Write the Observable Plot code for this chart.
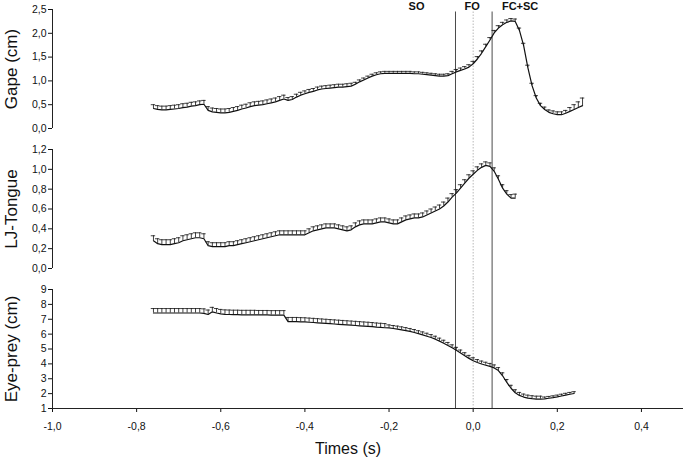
<!DOCTYPE html>
<html><head><meta charset="utf-8">
<script src="https://cdn.jsdelivr.net/npm/d3@7"></script>
<script src="https://cdn.jsdelivr.net/npm/@observablehq/plot@0.6"></script>
<style>
body{margin:0;background:#fff;}
#chart{position:relative;width:685px;height:458px;font-family:Arial,"Liberation Sans",sans-serif;}
#chart > svg{position:absolute;left:0;}
</style></head><body><div id="chart"></div>
<script>
// sample times (s)
const times = [-0.76,-0.75,-0.74,-0.73,-0.72,-0.71,-0.70,-0.69,-0.68,-0.67,-0.66,-0.65,-0.64,-0.63,-0.62,-0.61,-0.60,-0.59,-0.58,-0.57,-0.56,-0.55,-0.54,-0.53,-0.52,-0.51,-0.50,-0.49,-0.48,-0.47,-0.46,-0.45,-0.44,-0.43,-0.42,-0.41,-0.40,-0.39,-0.38,-0.37,-0.36,-0.35,-0.34,-0.33,-0.32,-0.31,-0.30,-0.29,-0.28,-0.27,-0.26,-0.25,-0.24,-0.23,-0.22,-0.21,-0.20,-0.19,-0.18,-0.17,-0.16,-0.15,-0.14,-0.13,-0.12,-0.11,-0.10,-0.09,-0.08,-0.07,-0.06,-0.05,-0.04,-0.03,-0.02,-0.01,0.00,0.01,0.02,0.03,0.04,0.05,0.06,0.07,0.08,0.09,0.10,0.11,0.12,0.13,0.14,0.15,0.16,0.17,0.18,0.19,0.20,0.21,0.22,0.23,0.24,0.25,0.26];

// Gape (cm)
const gape = [0.42,0.40,0.39,0.39,0.40,0.41,0.42,0.44,0.45,0.47,0.48,0.50,0.51,
  0.38,0.35,0.34,0.33,0.33,0.34,0.36,0.38,0.41,0.43,0.46,0.48,0.49,0.50,0.52,0.54,0.56,0.59,0.62,
  0.59,0.61,0.66,0.70,0.73,0.76,0.78,0.81,0.83,0.84,0.85,0.86,0.87,0.87,0.88,0.89,
  0.93,0.98,1.02,1.06,1.10,1.13,1.15,1.16,1.16,1.16,1.16,1.16,1.16,1.16,1.15,1.15,1.14,1.13,1.12,1.11,1.10,1.10,1.11,
  1.15,1.19,1.22,1.25,1.29,1.36,1.46,1.58,1.72,1.86,2.01,2.11,2.18,2.23,2.26,2.25,2.06,1.74,1.28,0.90,0.64,0.48,0.40,0.34,0.31,0.29,0.29,0.32,0.36,0.40,0.44,0.48];
const gapeErr = [0.08,0.08,0.08,0.08,0.08,0.08,0.08,0.08,0.08,0.08,0.08,0.08,0.08,
  0.08,0.08,0.08,0.08,0.08,0.08,0.08,0.08,0.08,0.08,0.08,0.08,0.08,0.08,0.08,0.08,0.08,0.08,0.08,
  0.06,0.06,0.06,0.06,0.06,0.06,0.06,0.06,0.06,0.06,0.06,0.06,0.06,0.06,0.06,0.06,
  0.04,0.04,0.04,0.04,0.04,0.04,0.04,0.04,0.04,0.04,0.04,0.04,0.04,0.04,0.04,0.04,0.04,0.04,0.04,0.04,0.04,0.04,0.04,
  0.05,0.05,0.05,0.05,0.05,0.05,0.05,0.05,0.05,0.05,0.05,0.05,0.05,0.05,0.05,0.05,0.05,0.05,0.05,0.05,0.05,0.05,0.05,0.05,0.06,0.06,0.06,0.06,0.08,0.10,0.12,0.16];

// LJ-Tongue
const ljTongue = [0.28,0.25,0.24,0.24,0.24,0.25,0.26,0.28,0.29,0.30,0.31,0.31,0.30,
  0.23,0.22,0.22,0.22,0.22,0.23,0.23,0.24,0.25,0.26,0.27,0.28,0.29,0.30,0.31,0.32,0.33,0.34,0.34,
  0.34,0.34,0.34,0.34,0.34,0.36,0.38,0.39,0.40,0.41,0.41,0.41,0.40,0.39,0.38,0.39,
  0.42,0.44,0.45,0.45,0.45,0.46,0.47,0.47,0.46,0.45,0.45,0.47,0.49,0.50,0.51,0.51,0.52,0.54,0.56,0.58,0.60,0.63,0.67,
  0.72,0.76,0.81,0.86,0.91,0.95,0.99,1.02,1.04,1.03,0.98,0.90,0.81,0.75,0.71,0.71];
const ljTongueErr = [0.05,0.05,0.05,0.05,0.05,0.05,0.05,0.05,0.05,0.05,0.05,0.05,0.05,
  0.04,0.04,0.04,0.04,0.04,0.04,0.04,0.04,0.04,0.04,0.04,0.04,0.04,0.04,0.04,0.04,0.04,0.04,0.04,
  0.04,0.04,0.04,0.04,0.04,0.04,0.04,0.04,0.04,0.04,0.04,0.04,0.04,0.04,0.04,0.04,
  0.04,0.04,0.04,0.04,0.04,0.04,0.04,0.04,0.04,0.04,0.04,0.04,0.04,0.04,0.04,0.04,0.04,0.04,0.04,0.04,0.04,0.04,0.04,
  0.035,0.035,0.035,0.035,0.035,0.035,0.035,0.035,0.035,0.035,0.035,0.035,0.035,0.035,0.035,0.04];

// Eye-prey (cm)
const eyePrey = [7.42,7.42,7.42,7.42,7.42,7.42,7.42,7.42,7.42,7.42,7.42,7.42,7.40,
  7.32,7.50,7.42,7.36,7.33,7.32,7.31,7.31,7.30,7.30,7.30,7.30,7.29,7.29,7.29,7.28,7.28,7.28,7.28,
  6.84,6.84,6.84,6.83,6.82,6.80,6.78,6.76,6.74,6.72,6.70,6.68,6.66,6.64,6.62,6.60,6.58,6.56,6.54,6.52,6.50,6.47,6.45,6.43,
  6.42,6.38,6.34,6.29,6.24,6.18,6.11,6.03,5.95,5.86,5.77,5.66,5.53,5.39,5.24,
  5.08,4.91,4.73,4.55,4.37,4.21,4.09,3.99,3.91,3.83,3.73,3.55,3.20,2.75,2.36,2.06,1.88,1.77,1.70,1.66,1.63,1.63,
  1.65,1.69,1.73,1.78,1.84,1.90,1.96,2.01];
const eyePreyErr = [0.30,0.30,0.30,0.30,0.30,0.30,0.30,0.30,0.30,0.30,0.30,0.30,0.30,
  0.30,0.30,0.30,0.30,0.30,0.30,0.30,0.30,0.30,0.30,0.30,0.30,0.30,0.30,0.30,0.30,0.30,0.30,0.30,
  0.28,0.28,0.28,0.28,0.28,0.28,0.28,0.28,0.28,0.28,0.28,0.28,0.28,0.28,0.28,0.28,0.28,0.28,0.28,0.28,0.28,0.28,0.28,0.28,
  0.20,0.20,0.20,0.20,0.20,0.20,0.20,0.20,0.20,0.20,0.20,0.20,0.20,0.20,0.20,
  0.20,0.20,0.20,0.20,0.20,0.20,0.20,0.20,0.20,0.20,0.20,0.20,0.20,0.20,0.20,0.20,0.20,0.20,0.20,0.20,0.20,0.20,
  0.12,0.12,0.12,0.12,0.12,0.12,0.12,0.12];

// kinematic events
const eventLabels = ["SO", "FO", "FC+SC"];
const eventTimes = [-0.042, 0.0, 0.045];

// axes
const xDomain = [-1, 0.5];
const xTicks = [-1.0, -0.8, -0.6, -0.4, -0.2, 0.0, 0.2, 0.4];
const gapeTicks = [0, 0.5, 1.0, 1.5, 2.0, 2.5];
const ljTicks = [0, 0.2, 0.4, 0.6, 0.8, 1.0, 1.2];
const eyeTicks = [1, 2, 3, 4, 5, 6, 7, 8, 9];

const fmt1 = d => d.toFixed(1).replace(".", ",");
const fmt0 = d => String(d);

function rows(vals, errs) {
  return vals.map((v, i) => ({t: times[i], v, hi: v + errs[i]}));
}

const eventStyles = [
  {stroke: "#4a4a4a", strokeWidth: 1, labelDx: -39},
  {stroke: "#b8b8b8", strokeWidth: 1, strokeDasharray: "1.5,1.5", labelDx: -1},
  {stroke: "#4a4a4a", strokeWidth: 1, labelDx: 28}
];

function panel({data, yDomain, yTicks, yFmt, title, height, mt, mb, top, bottomAxis, ruleTop, ruleBottom, showLabels}) {
  const marks = [];
  eventTimes.forEach((t, i) => {
    const s = eventStyles[i];
    marks.push(Plot.ruleX([t], {stroke: s.stroke, strokeWidth: s.strokeWidth, strokeDasharray: s.strokeDasharray, insetTop: ruleTop, insetBottom: ruleBottom}));
    if (showLabels) {
      marks.push(Plot.text([eventLabels[i]], {x: () => t, text: d => d, frameAnchor: "top", lineAnchor: "middle", textAnchor: "middle", dy: -3, dx: s.labelDx, fontWeight: "bold", fontSize: 11, fill: "#111"}));
    }
  });
  marks.push(Plot.ruleX([xDomain[0]], {stroke: "#222"}));
  if (bottomAxis) {
    marks.push(Plot.ruleY([yDomain[0]], {stroke: "#222"}));
    marks.push(Plot.text(["Times (s)"], {text: d => d, frameAnchor: "bottom", lineAnchor: "middle", textAnchor: "middle", dy: 40, dx: -20, fontSize: 16, fill: "#111"}));
  }
  marks.push(Plot.ruleX(data, {x: "t", y1: "v", y2: "hi", stroke: "#111", strokeWidth: 0.8}));
  marks.push(Plot.ruleY(data, {x1: "t", x2: "t", y: "hi", insetLeft: -2.2, insetRight: -2.2, stroke: "#111", strokeWidth: 0.8}));
  marks.push(Plot.line(data, {x: "t", y: "v", stroke: "#111", strokeWidth: 1.2}));
  marks.push(Plot.text([title], {text: d => d, frameAnchor: "left", textAnchor: "middle", lineAnchor: "middle", dx: -41, rotate: -90, fontSize: 17, fill: "#111"}));

  const svg = Plot.plot({
    width: 685,
    height,
    marginLeft: 52,
    marginRight: 2,
    marginTop: mt,
    marginBottom: mb,
    style: {fontFamily: "Arial, 'Liberation Sans', sans-serif", fontSize: "10.5px", color: "#111", background: "transparent", overflow: "visible"},
    x: bottomAxis
      ? {domain: xDomain, ticks: xTicks, tickSize: 4, tickPadding: 10, tickFormat: fmt1, label: null}
      : {domain: xDomain, axis: null},
    y: {domain: yDomain, ticks: yTicks, tickSize: 4, tickPadding: 2, tickFormat: yFmt, label: null},
    marks
  });
  svg.style.top = top + "px";
  return svg;
}

const chart = document.getElementById("chart");
chart.appendChild(panel({data: rows(gape, gapeErr), yDomain: [0, 2.5], yTicks: gapeTicks, yFmt: fmt1, title: "Gape (cm)",
  height: 138, mt: 9, mb: 10, top: 0, bottomAxis: false, ruleTop: 2.5, ruleBottom: -10, showLabels: true}));
chart.appendChild(panel({data: rows(ljTongue, ljTongueErr), yDomain: [0, 1.2], yTicks: ljTicks, yFmt: fmt1, title: "LJ-Tongue",
  height: 140, mt: 11, mb: 10, top: 138, bottomAxis: false, ruleTop: -11, ruleBottom: -10, showLabels: false}));
chart.appendChild(panel({data: rows(eyePrey, eyePreyErr), yDomain: [1, 9], yTicks: eyeTicks, yFmt: fmt0, title: "Eye-prey (cm)",
  height: 180, mt: 11, mb: 50, top: 278, bottomAxis: true, ruleTop: -11, ruleBottom: 0, showLabels: false}));
</script></body></html>
